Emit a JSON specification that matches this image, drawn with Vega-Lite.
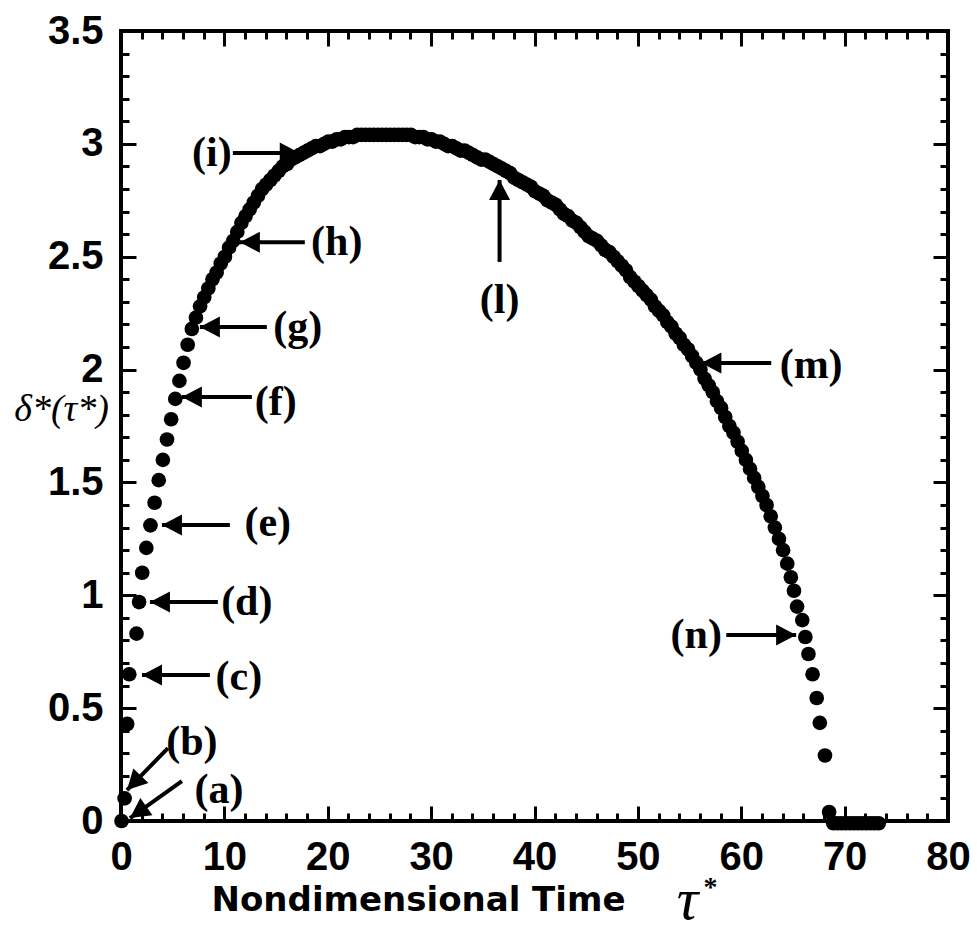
{
  "$schema": "https://vega.github.io/schema/vega-lite/v6.json",
  "width": 827,
  "height": 790,
  "autosize": {"type": "none"},
  "padding": {"left": 121, "top": 31, "right": 29, "bottom": 113},
  "background": "white",
  "config": {
    "view": {"stroke": "black", "strokeWidth": 4},
    "axis": {"grid": false, "domain": false, "tickColor": "black", "tickWidth": 3, "labelColor": "black", "titleColor": "black", "labelOverlap": false, "labelFlush": false}
  },
  "datasets": {
    "curve": [
      {"t": 0.05, "d": 0.0}, {"t": 0.35, "d": 0.1}, {"t": 0.6, "d": 0.43}, {"t": 0.8, "d": 0.65},
      {"t": 1.5, "d": 0.83}, {"t": 1.75, "d": 0.97}, {"t": 2.05, "d": 1.1}, {"t": 2.45, "d": 1.21},
      {"t": 2.85, "d": 1.31}, {"t": 3.25, "d": 1.41}, {"t": 3.65, "d": 1.51}, {"t": 4.05, "d": 1.6},
      {"t": 4.45, "d": 1.69}, {"t": 4.85, "d": 1.78}, {"t": 5.25, "d": 1.87}, {"t": 5.65, "d": 1.95},
      {"t": 6.05, "d": 2.03}, {"t": 6.45, "d": 2.11}, {"t": 6.85, "d": 2.18}, {"t": 7.25, "d": 2.23},
      {"t": 7.65, "d": 2.28}, {"t": 8.05, "d": 2.32}, {"t": 8.45, "d": 2.36}, {"t": 8.85, "d": 2.4},
      {"t": 9.25, "d": 2.43}, {"t": 9.65, "d": 2.47}, {"t": 10.05, "d": 2.5}, {"t": 10.45, "d": 2.54},
      {"t": 10.85, "d": 2.57}, {"t": 11.25, "d": 2.61}, {"t": 11.65, "d": 2.65}, {"t": 12.05, "d": 2.68},
      {"t": 12.45, "d": 2.71}, {"t": 12.85, "d": 2.74}, {"t": 13.25, "d": 2.77}, {"t": 13.65, "d": 2.8},
      {"t": 14.05, "d": 2.82}, {"t": 14.45, "d": 2.84}, {"t": 14.85, "d": 2.86}, {"t": 15.25, "d": 2.88},
      {"t": 15.65, "d": 2.9}, {"t": 16.05, "d": 2.91}, {"t": 16.45, "d": 2.93}, {"t": 16.85, "d": 2.94},
      {"t": 17.25, "d": 2.95}, {"t": 17.65, "d": 2.96}, {"t": 18.05, "d": 2.97}, {"t": 18.45, "d": 2.98},
      {"t": 18.85, "d": 2.99}, {"t": 19.25, "d": 2.99}, {"t": 19.65, "d": 3.0}, {"t": 20.05, "d": 3.01},
      {"t": 20.45, "d": 3.01}, {"t": 20.85, "d": 3.02}, {"t": 21.25, "d": 3.02}, {"t": 21.65, "d": 3.03},
      {"t": 22.05, "d": 3.03}, {"t": 22.45, "d": 3.03}, {"t": 22.85, "d": 3.04}, {"t": 23.25, "d": 3.04},
      {"t": 23.65, "d": 3.04}, {"t": 24.05, "d": 3.04}, {"t": 24.45, "d": 3.04}, {"t": 24.85, "d": 3.04},
      {"t": 25.25, "d": 3.04}, {"t": 25.65, "d": 3.04}, {"t": 26.05, "d": 3.04}, {"t": 26.45, "d": 3.04},
      {"t": 26.85, "d": 3.04}, {"t": 27.25, "d": 3.04}, {"t": 27.65, "d": 3.04}, {"t": 28.05, "d": 3.04},
      {"t": 28.45, "d": 3.03}, {"t": 28.85, "d": 3.03}, {"t": 29.25, "d": 3.03}, {"t": 29.65, "d": 3.02},
      {"t": 30.05, "d": 3.02}, {"t": 30.45, "d": 3.01}, {"t": 30.85, "d": 3.01}, {"t": 31.25, "d": 3.0},
      {"t": 31.65, "d": 2.99}, {"t": 32.05, "d": 2.99}, {"t": 32.45, "d": 2.98}, {"t": 32.85, "d": 2.97},
      {"t": 33.25, "d": 2.97}, {"t": 33.65, "d": 2.96}, {"t": 34.05, "d": 2.95}, {"t": 34.45, "d": 2.94},
      {"t": 34.85, "d": 2.93}, {"t": 35.25, "d": 2.93}, {"t": 35.65, "d": 2.92}, {"t": 36.05, "d": 2.91},
      {"t": 36.45, "d": 2.9}, {"t": 36.85, "d": 2.89}, {"t": 37.25, "d": 2.88}, {"t": 37.65, "d": 2.87},
      {"t": 38.05, "d": 2.85}, {"t": 38.45, "d": 2.84}, {"t": 38.85, "d": 2.83}, {"t": 39.25, "d": 2.82},
      {"t": 39.65, "d": 2.81}, {"t": 40.05, "d": 2.79}, {"t": 40.45, "d": 2.78}, {"t": 40.85, "d": 2.77},
      {"t": 41.25, "d": 2.75}, {"t": 41.65, "d": 2.74}, {"t": 42.05, "d": 2.73}, {"t": 42.45, "d": 2.71},
      {"t": 42.85, "d": 2.69}, {"t": 43.25, "d": 2.68}, {"t": 43.65, "d": 2.66}, {"t": 44.05, "d": 2.65},
      {"t": 44.45, "d": 2.63}, {"t": 44.85, "d": 2.61}, {"t": 45.25, "d": 2.59}, {"t": 45.65, "d": 2.58},
      {"t": 46.05, "d": 2.57}, {"t": 46.45, "d": 2.55}, {"t": 46.85, "d": 2.53}, {"t": 47.25, "d": 2.52},
      {"t": 47.65, "d": 2.5}, {"t": 48.05, "d": 2.48}, {"t": 48.45, "d": 2.46}, {"t": 48.85, "d": 2.44},
      {"t": 49.25, "d": 2.41}, {"t": 49.65, "d": 2.39}, {"t": 50.05, "d": 2.37}, {"t": 50.45, "d": 2.35},
      {"t": 50.85, "d": 2.33}, {"t": 51.25, "d": 2.31}, {"t": 51.65, "d": 2.28}, {"t": 52.05, "d": 2.26},
      {"t": 52.45, "d": 2.24}, {"t": 52.85, "d": 2.21}, {"t": 53.25, "d": 2.19}, {"t": 53.65, "d": 2.16},
      {"t": 54.05, "d": 2.14}, {"t": 54.45, "d": 2.11}, {"t": 54.85, "d": 2.09}, {"t": 55.25, "d": 2.06},
      {"t": 55.65, "d": 2.03}, {"t": 56.05, "d": 2.0}, {"t": 56.45, "d": 1.96}, {"t": 56.85, "d": 1.93},
      {"t": 57.25, "d": 1.9}, {"t": 57.65, "d": 1.86}, {"t": 58.05, "d": 1.83}, {"t": 58.45, "d": 1.79},
      {"t": 58.85, "d": 1.75}, {"t": 59.25, "d": 1.72}, {"t": 59.65, "d": 1.68}, {"t": 60.05, "d": 1.64},
      {"t": 60.45, "d": 1.6}, {"t": 60.85, "d": 1.56}, {"t": 61.25, "d": 1.52}, {"t": 61.65, "d": 1.48},
      {"t": 62.05, "d": 1.44}, {"t": 62.45, "d": 1.4}, {"t": 62.85, "d": 1.35}, {"t": 63.25, "d": 1.3},
      {"t": 63.65, "d": 1.25}, {"t": 64.05, "d": 1.2}, {"t": 64.45, "d": 1.14}, {"t": 64.8, "d": 1.08},
      {"t": 65.1, "d": 1.02}, {"t": 65.4, "d": 0.95}, {"t": 65.9, "d": 0.89}, {"t": 66.2, "d": 0.815},
      {"t": 66.5, "d": 0.74}, {"t": 66.9, "d": 0.65}, {"t": 67.3, "d": 0.545}, {"t": 67.6, "d": 0.435},
      {"t": 68.1, "d": 0.29}, {"t": 68.5, "d": 0.04}, {"t": 68.9, "d": -0.01}, {"t": 69.3, "d": -0.01},
      {"t": 69.7, "d": -0.01}, {"t": 70.1, "d": -0.01}, {"t": 70.5, "d": -0.01}, {"t": 70.9, "d": -0.01},
      {"t": 71.3, "d": -0.01}, {"t": 71.7, "d": -0.01}, {"t": 72.1, "d": -0.01}, {"t": 72.5, "d": -0.01},
      {"t": 72.9, "d": -0.01}, {"t": 73.3, "d": -0.01}
    ],
    "arrows": [
      {"lab": "(a)", "lx": 9.47, "ly": 0.137, "tx": 5.89, "ty": 0.177, "hx": 0.87, "hy": 0.013, "dir": "diagA"},
      {"lab": "(b)", "lx": 6.86, "ly": 0.35, "tx": 4.54, "ty": 0.323, "hx": 0.58, "hy": 0.137, "dir": "diagB"},
      {"lab": "(c)", "lx": 11.4, "ly": 0.638, "tx": 8.6, "ty": 0.647, "hx": 2.03, "hy": 0.647, "dir": "left"},
      {"lab": "(d)", "lx": 12.17, "ly": 0.97, "tx": 9.37, "ty": 0.97, "hx": 2.8, "hy": 0.97, "dir": "left"},
      {"lab": "(e)", "lx": 14.2, "ly": 1.32, "tx": 10.53, "ty": 1.311, "hx": 3.96, "hy": 1.311, "dir": "left"},
      {"lab": "(f)", "lx": 14.98, "ly": 1.856, "tx": 12.66, "ty": 1.879, "hx": 5.89, "hy": 1.879, "dir": "left"},
      {"lab": "(g)", "lx": 17.1, "ly": 2.189, "tx": 14.11, "ty": 2.189, "hx": 7.63, "hy": 2.189, "dir": "left"},
      {"lab": "(h)", "lx": 20.87, "ly": 2.564, "tx": 17.78, "ty": 2.564, "hx": 11.5, "hy": 2.564, "dir": "left"},
      {"lab": "(i)", "lx": 8.79, "ly": 2.96, "tx": 10.82, "ty": 2.96, "hx": 17.29, "hy": 2.96, "dir": "right"},
      {"lab": "(l)", "lx": 36.62, "ly": 2.308, "tx": 36.62, "ty": 2.477, "hx": 36.62, "hy": 2.84, "dir": "up"},
      {"lab": "(m)", "lx": 66.76, "ly": 2.02, "tx": 62.9, "ty": 2.029, "hx": 56.14, "hy": 2.029, "dir": "left"},
      {"lab": "(n)", "lx": 55.65, "ly": 0.824, "tx": 58.55, "ty": 0.824, "hx": 65.31, "hy": 0.824, "dir": "right"}
    ]
  },
  "resolve": {"axis": {"x": "independent", "y": "independent"}},
  "layer": [
    {
      "data": {"name": "curve"},
      "mark": {"type": "circle", "size": 215, "color": "black", "opacity": 1},
      "encoding": {
        "x": {"field": "t", "type": "quantitative", "scale": {"domain": [0, 80], "nice": false, "zero": false},
          "axis": {"orient": "bottom", "values": [0, 10, 20, 30, 40, 50, 60, 70, 80], "ticks": false, "format": "d",
            "labelFont": "Liberation Sans", "labelFontWeight": "bold", "labelFontSize": 40, "labelPadding": 16,
            "title": "Nondimensional Time", "titleFont": "DejaVu Sans", "titleFontWeight": "bold", "titleFontSize": 34,
            "titleX": 297, "titleY": 89, "titleAlign": "center", "titleBaseline": "alphabetic"}},
        "y": {"field": "d", "type": "quantitative", "scale": {"domain": [0, 3.5], "nice": false, "zero": false},
          "axis": {"orient": "left", "values": [0, 0.5, 1, 1.5, 2, 2.5, 3, 3.5], "ticks": false, "format": "~g",
            "labelFont": "Liberation Sans", "labelFontWeight": "bold", "labelFontSize": 40, "labelPadding": 18,
            "title": "δ*(τ*)", "titleFont": "Liberation Serif", "titleFontStyle": "italic", "titleFontWeight": "normal", "titleFontSize": 38,
            "titleAngle": 0, "titleX": -60, "titleY": 378, "titleAlign": "center", "titleBaseline": "middle"}}
      }
    },
    {
      "data": {"name": "curve"},
      "mark": {"type": "circle", "opacity": 0},
      "encoding": {
        "x": {"field": "t", "type": "quantitative", "scale": {"domain": [0, 80], "nice": false, "zero": false},
          "axis": {"orient": "bottom", "values": [0, 10, 20, 30, 40, 50, 60, 70, 80], "labels": false, "tickSize": -15,
            "title": "τ", "titleFont": "Liberation Serif", "titleFontStyle": "italic", "titleFontWeight": "normal", "titleFontSize": 60,
            "titleX": 566, "titleY": 97, "titleAlign": "center", "titleBaseline": "alphabetic"}},
        "y": {"field": "d", "type": "quantitative", "scale": {"domain": [0, 3.5], "nice": false, "zero": false},
          "axis": {"orient": "left", "values": [0, 0.5, 1, 1.5, 2, 2.5, 3, 3.5], "labels": false, "tickSize": -15, "title": null}}
      }
    },
    {
      "data": {"name": "curve"},
      "mark": {"type": "circle", "opacity": 0},
      "encoding": {
        "x": {"field": "t", "type": "quantitative", "scale": {"domain": [0, 80], "nice": false, "zero": false},
          "axis": {"orient": "bottom", "values": [2, 4, 6, 8, 12, 14, 16, 18, 22, 24, 26, 28, 32, 34, 36, 38, 42, 44, 46, 48, 52, 54, 56, 58, 62, 64, 66, 68, 72, 74, 76, 78], "labels": false, "tickSize": -8,
            "title": "*", "titleFont": "Liberation Serif", "titleFontWeight": "bold", "titleFontSize": 28,
            "titleX": 589, "titleY": 74, "titleAlign": "center", "titleBaseline": "alphabetic"}},
        "y": {"field": "d", "type": "quantitative", "scale": {"domain": [0, 3.5], "nice": false, "zero": false},
          "axis": {"orient": "left", "values": [0.1, 0.2, 0.3, 0.4, 0.6, 0.7, 0.8, 0.9, 1.1, 1.2, 1.3, 1.4, 1.6, 1.7, 1.8, 1.9, 2.1, 2.2, 2.3, 2.4, 2.6, 2.7, 2.8, 2.9, 3.1, 3.2, 3.3, 3.4], "labels": false, "tickSize": -8, "title": null}}
      }
    },
    {
      "data": {"name": "curve"},
      "mark": {"type": "circle", "opacity": 0},
      "encoding": {
        "x": {"field": "t", "type": "quantitative", "scale": {"domain": [0, 80], "nice": false, "zero": false},
          "axis": {"orient": "top", "values": [0, 10, 20, 30, 40, 50, 60, 70, 80], "labels": false, "tickSize": -15, "title": null}},
        "y": {"field": "d", "type": "quantitative", "scale": {"domain": [0, 3.5], "nice": false, "zero": false},
          "axis": {"orient": "right", "values": [0, 0.5, 1, 1.5, 2, 2.5, 3, 3.5], "labels": false, "tickSize": -15, "title": null}}
      }
    },
    {
      "data": {"name": "curve"},
      "mark": {"type": "circle", "opacity": 0},
      "encoding": {
        "x": {"field": "t", "type": "quantitative", "scale": {"domain": [0, 80], "nice": false, "zero": false},
          "axis": {"orient": "top", "values": [2, 4, 6, 8, 12, 14, 16, 18, 22, 24, 26, 28, 32, 34, 36, 38, 42, 44, 46, 48, 52, 54, 56, 58, 62, 64, 66, 68, 72, 74, 76, 78], "labels": false, "tickSize": -8, "title": null}},
        "y": {"field": "d", "type": "quantitative", "scale": {"domain": [0, 3.5], "nice": false, "zero": false},
          "axis": {"orient": "right", "values": [0.1, 0.2, 0.3, 0.4, 0.6, 0.7, 0.8, 0.9, 1.1, 1.2, 1.3, 1.4, 1.6, 1.7, 1.8, 1.9, 2.1, 2.2, 2.3, 2.4, 2.6, 2.7, 2.8, 2.9, 3.1, 3.2, 3.3, 3.4], "labels": false, "tickSize": -8, "title": null}}
      }
    },
    {
      "data": {"name": "arrows"},
      "mark": {"type": "rule", "color": "black", "strokeWidth": 4},
      "encoding": {
        "x": {"field": "tx", "type": "quantitative", "scale": {"domain": [0, 80], "nice": false, "zero": false}, "axis": null},
        "y": {"field": "ty", "type": "quantitative", "scale": {"domain": [0, 3.5], "nice": false, "zero": false}, "axis": null},
        "x2": {"field": "hx"},
        "y2": {"field": "hy"}
      }
    },
    {
      "data": {"name": "arrows"},
      "transform": [{"filter": "datum.dir === 'left'"}],
      "mark": {"type": "point", "shape": "M0,0L2,-1.05L2,1.05Z", "filled": true, "color": "black", "opacity": 1, "size": 400, "angle": 0},
      "encoding": {
        "x": {"field": "hx", "type": "quantitative", "scale": {"domain": [0, 80], "nice": false, "zero": false}, "axis": null},
        "y": {"field": "hy", "type": "quantitative", "scale": {"domain": [0, 3.5], "nice": false, "zero": false}, "axis": null}
      }
    },
    {
      "data": {"name": "arrows"},
      "transform": [{"filter": "datum.dir === 'right'"}],
      "mark": {"type": "point", "shape": "M0,0L2,-1.05L2,1.05Z", "filled": true, "color": "black", "opacity": 1, "size": 400, "angle": 180},
      "encoding": {
        "x": {"field": "hx", "type": "quantitative", "scale": {"domain": [0, 80], "nice": false, "zero": false}, "axis": null},
        "y": {"field": "hy", "type": "quantitative", "scale": {"domain": [0, 3.5], "nice": false, "zero": false}, "axis": null}
      }
    },
    {
      "data": {"name": "arrows"},
      "transform": [{"filter": "datum.dir === 'up'"}],
      "mark": {"type": "point", "shape": "M0,0L2,-1.05L2,1.05Z", "filled": true, "color": "black", "opacity": 1, "size": 400, "angle": 90},
      "encoding": {
        "x": {"field": "hx", "type": "quantitative", "scale": {"domain": [0, 80], "nice": false, "zero": false}, "axis": null},
        "y": {"field": "hy", "type": "quantitative", "scale": {"domain": [0, 3.5], "nice": false, "zero": false}, "axis": null}
      }
    },
    {
      "data": {"name": "arrows"},
      "transform": [{"filter": "datum.dir === 'diagA'"}],
      "mark": {"type": "point", "shape": "M0,0L2,-1.05L2,1.05Z", "filled": true, "color": "black", "opacity": 1, "size": 400, "angle": -35},
      "encoding": {
        "x": {"field": "hx", "type": "quantitative", "scale": {"domain": [0, 80], "nice": false, "zero": false}, "axis": null},
        "y": {"field": "hy", "type": "quantitative", "scale": {"domain": [0, 3.5], "nice": false, "zero": false}, "axis": null}
      }
    },
    {
      "data": {"name": "arrows"},
      "transform": [{"filter": "datum.dir === 'diagB'"}],
      "mark": {"type": "point", "shape": "M0,0L2,-1.05L2,1.05Z", "filled": true, "color": "black", "opacity": 1, "size": 400, "angle": -46},
      "encoding": {
        "x": {"field": "hx", "type": "quantitative", "scale": {"domain": [0, 80], "nice": false, "zero": false}, "axis": null},
        "y": {"field": "hy", "type": "quantitative", "scale": {"domain": [0, 3.5], "nice": false, "zero": false}, "axis": null}
      }
    },
    {
      "data": {"name": "arrows"},
      "mark": {"type": "text", "font": "Liberation Serif", "fontWeight": "bold", "fontSize": 42, "color": "black", "align": "center", "baseline": "middle"},
      "encoding": {
        "x": {"field": "lx", "type": "quantitative", "scale": {"domain": [0, 80], "nice": false, "zero": false}, "axis": null},
        "y": {"field": "ly", "type": "quantitative", "scale": {"domain": [0, 3.5], "nice": false, "zero": false}, "axis": null},
        "text": {"field": "lab"}
      }
    }
  ]
}
